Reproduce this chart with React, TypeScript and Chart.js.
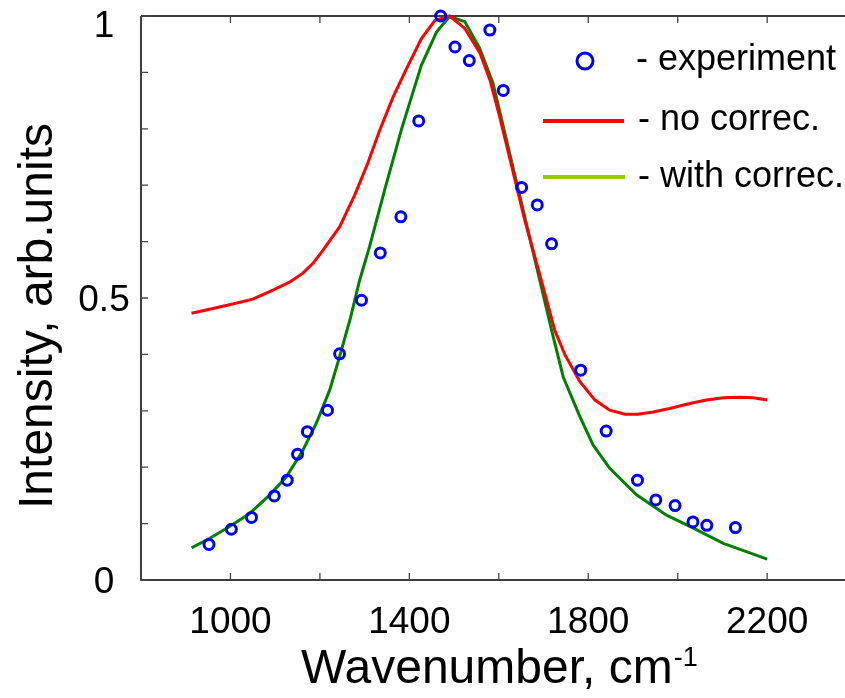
import React, { useEffect, useRef } from 'react';
import { Chart, registerables } from 'chart.js';

Chart.register(...registerables);

const FONT = 'Arial, "Liberation Sans", Helvetica, sans-serif';

// Experimental points
const expX = [952, 1002, 1047, 1098, 1127, 1150, 1172, 1217, 1244, 1293, 1335, 1381, 1421, 1470, 1502, 1534, 1580, 1610, 1651, 1686, 1718, 1783, 1840, 1910, 1951, 1994, 2034, 2065, 2129];
const expY = [0.063, 0.090, 0.111, 0.149, 0.177, 0.223, 0.263, 0.301, 0.401, 0.496, 0.580, 0.644, 0.814, 1.0, 0.945, 0.921, 0.975, 0.868, 0.696, 0.665, 0.596, 0.372, 0.264, 0.177, 0.142, 0.132, 0.103, 0.097, 0.093];

// Calculation without correction (red)
const redX = [913, 998, 1050, 1095, 1132, 1162, 1185, 1207, 1244, 1278, 1307, 1334, 1364, 1394, 1427, 1457, 1490, 1524, 1558, 1580, 1602, 1630, 1658, 1692, 1725, 1748, 1781, 1815, 1848, 1882, 1911, 1945, 1982, 2027, 2064, 2102, 2139, 2169, 2200];
const redY = [0.473, 0.488, 0.498, 0.514, 0.528, 0.544, 0.562, 0.585, 0.626, 0.683, 0.739, 0.798, 0.857, 0.907, 0.960, 0.992, 1.0, 0.978, 0.934, 0.887, 0.821, 0.730, 0.638, 0.540, 0.443, 0.399, 0.352, 0.319, 0.301, 0.294, 0.294, 0.298, 0.304, 0.313, 0.319, 0.323, 0.324, 0.323, 0.319];

// Calculation with correction (green)
const greenX = [913, 954, 998, 1043, 1088, 1125, 1162, 1192, 1222, 1244, 1267, 1289, 1311, 1345, 1382, 1405, 1427, 1461, 1490, 1524, 1557, 1587, 1610, 1658, 1718, 1744, 1781, 1811, 1848, 1908, 1975, 2035, 2102, 2200];
const greenY = [0.057, 0.074, 0.095, 0.118, 0.151, 0.183, 0.230, 0.278, 0.337, 0.396, 0.461, 0.532, 0.591, 0.692, 0.798, 0.857, 0.913, 0.972, 0.999, 0.990, 0.943, 0.881, 0.804, 0.644, 0.443, 0.360, 0.290, 0.239, 0.198, 0.151, 0.115, 0.092, 0.065, 0.037];

// Axes
const xMin = 800;
const xMax = 2374;
const yMin = 0;
const yMax = 1;
const xTicks = [800, 1000, 1200, 1400, 1600, 1800, 2000, 2200];
const xLabelValues = [1000, 1400, 1800, 2200];
const yTicks = [0, 0.1, 0.2, 0.3, 0.4, 0.5, 0.6, 0.7, 0.8, 0.9, 1];
const yLabelValues = [0, 0.5, 1];
const yLabelTexts = ['0', '0.5', '1'];
const xTitle = 'Wavenumber, cm';
const xTitleSup = '-1';
const yTitle = 'Intensity, arb.units';
const legendLabels = ['- experiment', '- no correc.', '- with correc.'];

const BLUE = '#0000ff';
const RED = '#ff0000';
const GREEN = '#008000';
const LEGEND_GREEN = '#99cc00';

const zip = (xs: number[], ys: number[]) => xs.map((x, i) => ({ x, y: ys[i] }));

const framePlugin = {
  id: 'frame',
  beforeDatasetsDraw(chart: any) {
    const { ctx, chartArea, scales } = chart;
    const { left, top, right, bottom } = chartArea;
    const x = scales.x;
    const y = scales.y;
    ctx.save();
    ctx.strokeStyle = '#000';
    ctx.lineWidth = 1.5;
    ctx.beginPath();
    ctx.moveTo(left, top);
    ctx.lineTo(right + 2, top);
    ctx.moveTo(left, top);
    ctx.lineTo(left, bottom);
    ctx.lineTo(right + 2, bottom);
    ctx.stroke();
    ctx.strokeStyle = '#444';
    ctx.lineWidth = 1.3;
    ctx.beginPath();
    for (const v of xTicks) {
      const px = x.getPixelForValue(v);
      ctx.moveTo(px, bottom);
      ctx.lineTo(px, bottom - 7);
      ctx.moveTo(px, top);
      ctx.lineTo(px, top + 7);
    }
    for (const v of yTicks) {
      const py = y.getPixelForValue(v);
      ctx.moveTo(left, py);
      ctx.lineTo(left + 7, py);
    }
    ctx.stroke();
    ctx.restore();
  },
  afterDraw(chart: any) {
    const { ctx, chartArea, scales } = chart;
    const { left, top, right, bottom } = chartArea;
    const x = scales.x;
    const y = scales.y;
    ctx.save();
    ctx.fillStyle = '#000';
    // tick labels
    ctx.font = `37px ${FONT}`;
    ctx.textAlign = 'center';
    ctx.textBaseline = 'alphabetic';
    for (const v of xLabelValues) {
      ctx.fillText(String(v), x.getPixelForValue(v), bottom + 53);
    }
    yLabelValues.forEach((v, i) => {
      const cy = Math.max(y.getPixelForValue(v), top + 8);
      ctx.fillText(yLabelTexts[i], left - 37, cy + 13);
    });
    // x title
    ctx.textAlign = 'left';
    ctx.font = `48px ${FONT}`;
    const tx = 301;
    ctx.fillText(xTitle, tx, 683);
    const w = ctx.measureText(xTitle).width;
    ctx.font = `27px ${FONT}`;
    ctx.fillText(xTitleSup, tx + w + 1, 666);
    // y title
    ctx.font = `48px ${FONT}`;
    ctx.textAlign = 'center';
    ctx.translate(52, 316);
    ctx.rotate(-Math.PI / 2);
    ctx.fillText(yTitle, 0, 0);
    ctx.restore();

    // legend
    ctx.save();
    const lx = right - 305;
    ctx.strokeStyle = BLUE;
    ctx.lineWidth = 3;
    ctx.beginPath();
    ctx.arc(lx + 45, 61, 8, 0, Math.PI * 2);
    ctx.stroke();
    ctx.lineWidth = 4;
    ctx.strokeStyle = RED;
    ctx.beginPath();
    ctx.moveTo(lx + 3, 121);
    ctx.lineTo(lx + 84, 121);
    ctx.stroke();
    ctx.strokeStyle = LEGEND_GREEN;
    ctx.beginPath();
    ctx.moveTo(lx + 3, 177);
    ctx.lineTo(lx + 85, 177);
    ctx.stroke();
    ctx.fillStyle = '#000';
    ctx.font = `36px ${FONT}`;
    ctx.textAlign = 'left';
    ctx.textBaseline = 'alphabetic';
    ctx.fillText(legendLabels[0], lx + 96, 70);
    ctx.fillText(legendLabels[1], lx + 98, 130);
    ctx.fillText(legendLabels[2], lx + 98, 187);
    ctx.restore();
  },
};

export default function App() {
  const canvasRef = useRef<HTMLCanvasElement | null>(null);

  useEffect(() => {
    const canvas = canvasRef.current;
    if (!canvas) return;
    const chart = new Chart(canvas, {
      type: 'scatter',
      data: {
        datasets: [
          {
            label: 'experiment',
            data: zip(expX, expY),
            showLine: false,
            pointStyle: 'circle',
            pointRadius: 5,
            pointBorderWidth: 3,
            borderColor: BLUE,
            backgroundColor: 'rgba(0,0,0,0)',
            pointBackgroundColor: 'rgba(0,0,0,0)',
            pointBorderColor: BLUE,
            clip: false,
          },
          {
            label: 'no correc.',
            data: zip(redX, redY),
            showLine: true,
            borderColor: RED,
            borderWidth: 3,
            pointRadius: 0,
            tension: 0,
            clip: false,
          },
          {
            label: 'with correc.',
            data: zip(greenX, greenY),
            showLine: true,
            borderColor: GREEN,
            borderWidth: 3,
            pointRadius: 0,
            tension: 0,
            clip: false,
          },
        ],
      } as any,
      options: {
        animation: false,
        responsive: false,
        events: [],
        layout: { autoPadding: false, padding: { left: 141, top: 16, right: 0, bottom: 118 } },
        scales: {
          x: { type: 'linear', min: xMin, max: xMax, display: false },
          y: { type: 'linear', min: yMin, max: yMax, display: false },
        },
        plugins: {
          legend: { display: false },
          tooltip: { enabled: false },
        },
      },
      plugins: [framePlugin],
    });
    return () => chart.destroy();
  }, []);

  return (
    <div style={{ position: 'fixed', left: 0, top: 0, width: 845, height: 698, background: '#fff', overflow: 'hidden' }}>
      <canvas ref={canvasRef} width={845} height={698} style={{ display: 'block' }} />
    </div>
  );
}
